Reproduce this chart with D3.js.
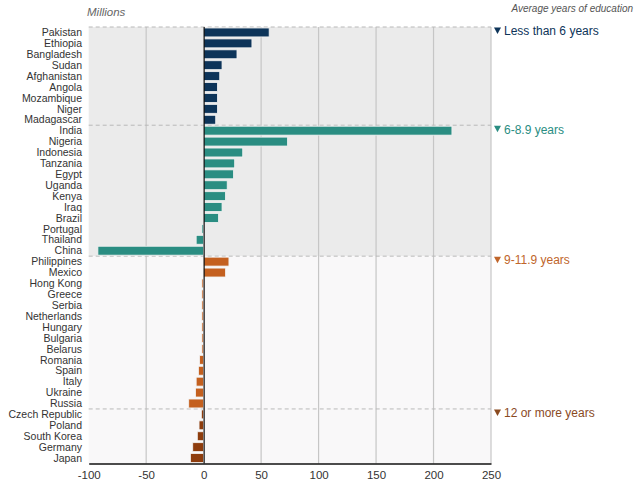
<!DOCTYPE html>
<html><head><meta charset="utf-8">
<script src="https://cdn.jsdelivr.net/npm/d3@7"></script>
<style>
html,body{margin:0;padding:0;background:#fff;}
svg{display:block;font-family:"Liberation Sans",Arial,sans-serif;}
</style></head>
<body>
<svg id="chart" width="635" height="483"></svg>
<script>
const groups = ["Less than 6 years","6-8.9 years","9-11.9 years","12 or more years"];
const groupColors = ["#0d3459","#2a8d82","#c4601f","#8e3d0e"];
const groupTextColors = ["#0d3459","#2a8d82","#c0652a","#8a4a1f"];

const g1Countries = ["Pakistan","Ethiopia","Bangladesh","Sudan","Afghanistan","Angola","Mozambique","Niger","Madagascar"];
const g1Values = [57,42,29,16,14,12,12,12,10.5];
const g2Countries = ["India","Nigeria","Indonesia","Tanzania","Egypt","Uganda","Kenya","Iraq","Brazil","Portugal","Thailand","China"];
const g2Values = [216,73,34,27,26,20.5,19,16,13,-1.5,-6.5,-92];
const g3Countries = ["Philippines","Mexico","Hong Kong","Greece","Serbia","Netherlands","Hungary","Bulgaria","Belarus","Romania","Spain","Italy","Ukraine","Russia"];
const g3Values = [22,19,-1.5,-1.5,-1.5,-1.5,-1.5,-1.5,-1.5,-3.5,-4.5,-6.5,-7,-13];
const g4Countries = ["Czech Republic","Poland","South Korea","Germany","Japan"];
const g4Values = [-2,-4,-5.5,-9.5,-11.5];
const xTicks = [-100,-50,0,50,100,150,200,250];

(function(){
const countryGroups = [g1Countries,g2Countries,g3Countries,g4Countries];
const valueGroups = [g1Values,g2Values,g3Values,g4Values];
const data = [];
countryGroups.forEach((cs,gi)=>cs.forEach((c,i)=>data.push({country:c,value:valueGroups[gi][i],group:gi})));

const svg = d3.select("#chart");
const pL = 88.7, pR = 491, pT = 27, pB = 463.5;
const x = d3.scaleLinear().domain([-100,250]).range([pL,pR]);
const y = d3.scaleBand().domain(data.map(d=>d.country)).range([pT,pB]).padding(0);
const rowH = y.bandwidth();

const starts = []; let acc = 0;
countryGroups.forEach(cs=>{starts.push(acc); acc += cs.length;});
const rowTop = i => pT + i*rowH;

// backgrounds
svg.append("rect").attr("x",pL).attr("y",pT).attr("width",pR-pL)
  .attr("height",rowTop(starts[2])-pT).attr("fill","#ebebeb");
svg.append("rect").attr("x",pL).attr("y",rowTop(starts[2])).attr("width",pR-pL)
  .attr("height",pB-rowTop(starts[2])).attr("fill","#f9f8f9");

// vertical gridlines
svg.append("g").selectAll("line").data(xTicks.filter(t=>t!==0 && t!==-100)).join("line")
  .attr("x1",d=>x(d)).attr("x2",d=>x(d)).attr("y1",pT).attr("y2",pB)
  .attr("stroke","#c6c6c6").attr("stroke-width",1.2);

// group dividers
svg.append("g").selectAll("line").data(starts).join("line")
  .attr("x1",pL).attr("x2",pR).attr("y1",d=>rowTop(d)).attr("y2",d=>rowTop(d))
  .attr("stroke","#b9b9b9").attr("stroke-width",1).attr("stroke-dasharray","4,3");

// bars
svg.append("g").selectAll("rect").data(data).join("rect")
  .attr("x",d=>x(Math.min(0,d.value)))
  .attr("width",d=>Math.max(1.2,Math.abs(x(d.value)-x(0))))
  .attr("y",d=>y(d.country)+1)
  .attr("height",rowH-2)
  .attr("fill",d=>groupColors[d.group])
  .attr("stroke","#f3f3f3").attr("stroke-width",0.8);

// zero line
svg.append("line").attr("x1",x(0)+0.5).attr("x2",x(0)+0.5).attr("y1",pT).attr("y2",pB)
  .attr("stroke","#111").attr("stroke-width",1.2);

// country labels
svg.append("g").selectAll("text").data(data).join("text")
  .attr("x",82).attr("y",d=>y(d.country)+rowH/2).attr("dy","0.35em")
  .attr("text-anchor","end").attr("font-size","10.5px").attr("fill","#333")
  .text(d=>d.country);

// x axis
const xAxis = d3.axisBottom(x).tickValues(xTicks).tickSize(0).tickPadding(7).tickFormat(d=>String(d));
const ax = svg.append("g").attr("transform",`translate(0,${pB})`).call(xAxis);
ax.select(".domain").attr("stroke","#111").attr("stroke-width",1.5);
ax.selectAll("text").attr("font-size","11.5px").attr("fill","#333").attr("font-family","Liberation Sans, Arial, sans-serif");

// titles
svg.append("text").attr("x",87).attr("y",16).attr("font-size","11.5px").attr("font-style","italic")
  .attr("fill","#666").text("Millions");
svg.append("text").attr("x",633).attr("y",12).attr("text-anchor","end").attr("font-size","10px").attr("font-style","italic")
  .attr("fill","#555").text("Average years of education");

// group legend labels
const lg = svg.append("g").selectAll("g").data(groups).join("g")
  .attr("transform",(d,i)=>`translate(494,${rowTop(starts[i])+4})`);
lg.append("path").attr("d","M0,-3.5L7,-3.5L3.5,3Z").attr("fill",(d,i)=>groupTextColors[i]);
lg.append("text").attr("x",10).attr("dy","0.36em").attr("font-size","12px")
  .attr("fill",(d,i)=>groupTextColors[i]).text(d=>d);
})();
</script>
</body></html>
